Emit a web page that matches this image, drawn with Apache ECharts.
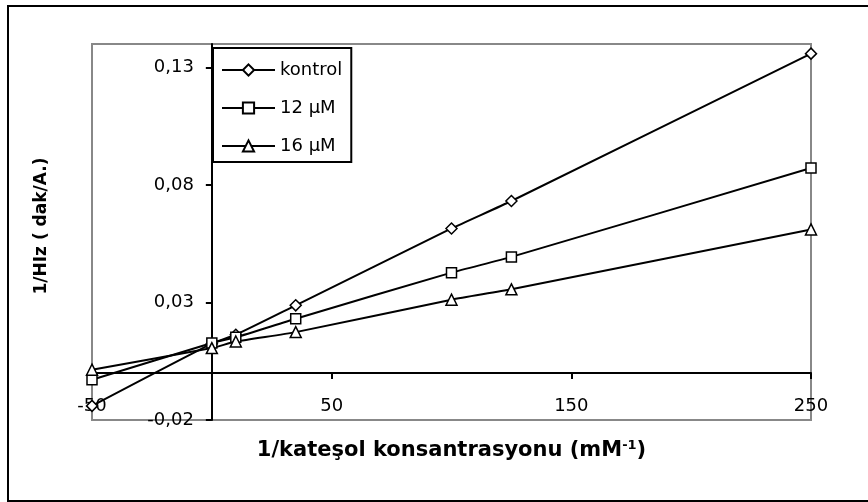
<!DOCTYPE html>
<html>
<head>
<meta charset="utf-8">
<script src="https://cdn.jsdelivr.net/npm/echarts@6/dist/echarts.min.js"></script>
<style>
  html, body { margin: 0; padding: 0; background: #fff; }
  #chart { width: 868px; height: 502px; }
</style>
</head>
<body>
<div id="chart"></div>
<script>
// 1/[S] values (mM^-1)
const xValues = [-50, 0, 10, 35, 100, 125, 250];
// 1/V values for each inhibitor level
const kontrol = [-0.014, 0.0125, 0.0163, 0.0288, 0.0615, 0.0732, 0.1359];
const uM12 = [-0.0029, 0.0128, 0.0152, 0.0231, 0.0427, 0.0494, 0.0872];
const uM16 = [0.0014, 0.0106, 0.0134, 0.0174, 0.0312, 0.0356, 0.0611];

const seriesNames = ['kontrol', '12 µM', '16 µM'];
const seriesSymbols = ['diamond', 'rect', 'triangle'];
const seriesValues = [kontrol, uM12, uM16];

const xTicks = [-50, 50, 150, 250];
const yTicks = [-0.02, 0.03, 0.08, 0.13];
const xRange = [-50, 250];
const yRange = [-0.02, 0.14];

const FONT = 'DejaVu Sans';

// plot rectangle
const GRID = { left: 92, right: 57, top: 44, bottom: 82 };
const W = 868, H = 502;
const plotW = W - GRID.left - GRID.right;
const plotH = H - GRID.top - GRID.bottom;
// shift each axis inward so that both axes cross at the origin
const xAxisShift = plotH * (0 - yRange[0]) / (yRange[1] - yRange[0]);
const yAxisShift = plotW * (0 - xRange[0]) / (xRange[1] - xRange[0]);

const chart = echarts.init(document.getElementById('chart'), null, { renderer: 'canvas' });

const series = seriesValues.map((vals, i) => ({
  name: seriesNames[i],
  type: 'line',
  data: xValues.map((x, j) => [x, vals[j]]),
  symbol: seriesSymbols[i],
  symbolSize: seriesSymbols[i] === 'rect' ? 10 : 11,
  smooth: 0.2,
  color: '#000',
  lineStyle: { color: '#000', width: 2 },
  itemStyle: { color: '#fff', borderColor: '#000', borderWidth: 1.5 },
  emphasis: { disabled: true }
}));

chart.setOption({
  animation: false,
  backgroundColor: '#fff',
  graphic: [{
    type: 'rect',
    shape: { x: 8, y: 6, width: 900, height: 495 },
    style: { fill: 'none', stroke: '#000', lineWidth: 2 },
    silent: true,
    z: -1
  }],
  grid: {
    left: GRID.left, right: GRID.right, top: GRID.top, bottom: GRID.bottom,
    outerBoundsMode: 'none',
    containLabel: false,
    show: true,
    borderColor: '#888',
    borderWidth: 2,
    backgroundColor: '#fff'
  },
  legend: {
    orient: 'vertical',
    left: 213,
    top: 48,
    itemWidth: 53,
    itemHeight: 14,
    itemGap: 20,
    padding: [13, 9, 7, 8],
    borderColor: '#000',
    borderWidth: 2,
    backgroundColor: '#fff',
    textStyle: { color: '#000', fontFamily: FONT, fontSize: 18, lineHeight: 18 },
    data: seriesNames
  },
  xAxis: {
    type: 'value',
    min: xRange[0],
    max: xRange[1],
    offset: -xAxisShift,
    name: '1/kateşol konsantrasyonu (mM{sup|-1})',
    nameLocation: 'middle',
    nameGap: 66,
    nameTextStyle: {
      color: '#000', fontFamily: FONT, fontWeight: 'bold', fontSize: 21,
      rich: {
        sup: { fontFamily: FONT, fontWeight: 'bold', fontSize: 13, verticalAlign: 'top', padding: [0, 0, 10, 0] }
      }
    },
    axisLine: { onZero: false, lineStyle: { color: '#000', width: 2 } },
    axisTick: { show: true, customValues: xTicks, length: 6, lineStyle: { color: '#000', width: 2 } },
    axisLabel: { customValues: xTicks, margin: 24, color: '#000', fontFamily: FONT, fontSize: 18 },
    splitLine: { show: false }
  },
  yAxis: {
    type: 'value',
    min: yRange[0],
    max: yRange[1],
    offset: -yAxisShift,
    name: '1/HIz ( dak/A.)',
    nameLocation: 'middle',
    nameGap: 162,
    nameTextStyle: {
      color: '#000', fontFamily: FONT, fontWeight: 'bold', fontSize: 17,
      padding: [0, 0, 0, 12]
    },
    axisLine: { onZero: false, lineStyle: { color: '#000', width: 2 } },
    axisTick: { show: true, customValues: yTicks, length: 6, lineStyle: { color: '#000', width: 2 } },
    axisLabel: {
      customValues: yTicks,
      margin: 18,
      color: '#000', fontFamily: FONT, fontSize: 18,
      formatter: v => v.toFixed(2).replace('.', ',')
    },
    splitLine: { show: false }
  },
  series: series
});
</script>
</body>
</html>
